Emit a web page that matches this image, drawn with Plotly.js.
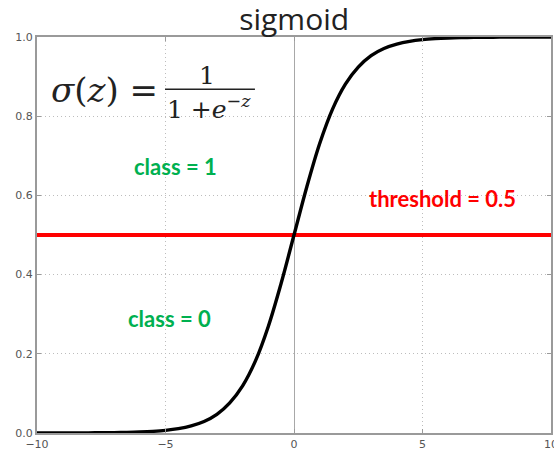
<!DOCTYPE html>
<html>
<head>
<meta charset="utf-8">
<script src="https://cdn.plot.ly/plotly-3.0.1.min.js"></script>
<style>html,body{margin:0;padding:0;background:#fff;}#chart{width:554px;height:453px;}</style>
</head>
<body>
<div id="chart"></div>
<script>
// Logistic curve sampled along z
const zValues = [-10, -9.5, -9, -8.5, -8, -7.5, -7, -6.5, -6, -5.5, -5, -4.5, -4, -3.5, -3, -2.5, -2, -1.5, -1, -0.5, 0,
                 0.5, 1, 1.5, 2, 2.5, 3, 3.5, 4, 4.5, 5, 5.5, 6, 6.5, 7, 7.5, 8, 8.5, 9, 9.5, 10];
const sigmaValues = [0.0, 0.0001, 0.0001, 0.0002, 0.0003, 0.0006, 0.0009, 0.0015, 0.0025, 0.0041, 0.0067, 0.011, 0.018, 0.029, 0.047, 0.076, 0.119, 0.182, 0.269, 0.378, 0.5,
                     0.622, 0.731, 0.818, 0.881, 0.924, 0.953, 0.971, 0.982, 0.989, 0.9933, 0.9959, 0.9975, 0.9985, 0.9991, 0.9994, 0.9997, 0.9998, 0.9999, 0.9999, 1.0];

// Decision threshold
const thresholdX = [-10, 10];
const threshold = 0.5;

const xTicks = [-10, -5, 0, 5, 10];
const xTickLabels = ['\u221210', '\u22125', '0', '5', '10'];
const yTicks = [0.0, 0.2, 0.4, 0.6, 0.8, 1.0];
const yTickLabels = ['0.0', '0.2', '0.4', '0.6', '0.8', '1.0'];

const titleText = 'sigmoid';
const classLabels = ['class = 1', 'class = 0'];
const thresholdLabel = 'threshold = 0.5';

const traces = [
  {
    x: thresholdX, y: thresholdX.map(() => threshold),
    mode: 'lines', line: {color: '#ff0000', width: 4},
    hoverinfo: 'skip', cliponaxis: false
  },
  {
    x: zValues, y: sigmaValues,
    mode: 'lines', line: {color: '#000000', width: 3.4, shape: 'spline', smoothing: 1},
    hoverinfo: 'skip'
  }
];

const greenFont = {family: 'Lato, "Open Sans", sans-serif', size: 22, color: '#00b050', weight: 'bold'};
const redFont = {family: 'Lato, "Open Sans", sans-serif', size: 22, color: '#ff0000', weight: 'bold'};
const mathFamily = '"DejaVu Serif", "Liberation Serif", serif';
const tickFont = {family: '"DejaVu Sans", sans-serif', size: 11, color: '#555'};
const gridStyle = {showgrid: true, gridcolor: '#bdbdbd', griddash: '1px,3px', gridwidth: 1};

const layout = {
  width: 554, height: 453,
  margin: {l: 37, r: 3, t: 37, b: 20},
  paper_bgcolor: '#fff', plot_bgcolor: '#fff',
  showlegend: false,
  title: {
    text: titleText,
    font: {family: '"Open Sans", sans-serif', size: 30, color: '#222'},
    x: 0.531, xanchor: 'center', y: 0.958, yanchor: 'middle', yref: 'container'
  },
  xaxis: Object.assign({
    range: [-10, 10], tickvals: xTicks, ticktext: xTickLabels,
    showline: true, mirror: 'ticks', linecolor: '#9a9a9a', linewidth: 2,
    zeroline: true, zerolinecolor: '#a8a8a8', zerolinewidth: 1,
    ticks: 'inside', ticklen: 4, tickcolor: '#9a9a9a',
    tickfont: tickFont, ticklabeloverflow: 'allow',
    fixedrange: true
  }, gridStyle),
  yaxis: Object.assign({
    range: [0, 1], tickvals: yTicks, ticktext: yTickLabels,
    showline: true, mirror: 'ticks', linecolor: '#9a9a9a', linewidth: 2,
    zeroline: false,
    ticks: 'inside', ticklen: 4, tickcolor: '#9a9a9a',
    tickfont: tickFont, ticklabeloverflow: 'allow',
    fixedrange: true
  }, gridStyle),
  annotations: [
    {x: -4.63, y: 0.672, xref: 'x', yref: 'y', text: classLabels[0], showarrow: false, font: greenFont},
    {x: -4.86, y: 0.29, xref: 'x', yref: 'y', text: classLabels[1], showarrow: false, font: greenFont},
    {x: 5.76, y: 0.591, xref: 'x', yref: 'y', text: thresholdLabel, showarrow: false, font: redFont},
    // formula: σ(z) = 1 / (1 + e^{-z})
    {x: -9.55, y: 0.866, xref: 'x', yref: 'y', xanchor: 'left', yanchor: 'middle',
     text: '<i>\u03c3</i>(<i>z</i>) =', showarrow: false, font: {family: mathFamily, size: 34, color: '#222'}},
    {x: -3.39, y: 0.902, xref: 'x', yref: 'y', xanchor: 'center', yanchor: 'middle',
     text: '1', showarrow: false, font: {family: mathFamily, size: 25, color: '#222'}},
    {x: -3.3, y: 0.823, xref: 'x', yref: 'y', xanchor: 'center', yanchor: 'middle',
     text: '1 +<i>e</i><sup>\u2212<i>z</i></sup>', showarrow: false, font: {family: mathFamily, size: 25, color: '#222'}}
  ],
  shapes: [
    {type: 'line', xref: 'x', yref: 'y', x0: -5.02, x1: -1.52, y0: 0.868, y1: 0.868,
     line: {color: '#222', width: 1.6}}
  ]
};

Plotly.newPlot('chart', traces, layout, {displayModeBar: false, staticPlot: true});
</script>
</body>
</html>
